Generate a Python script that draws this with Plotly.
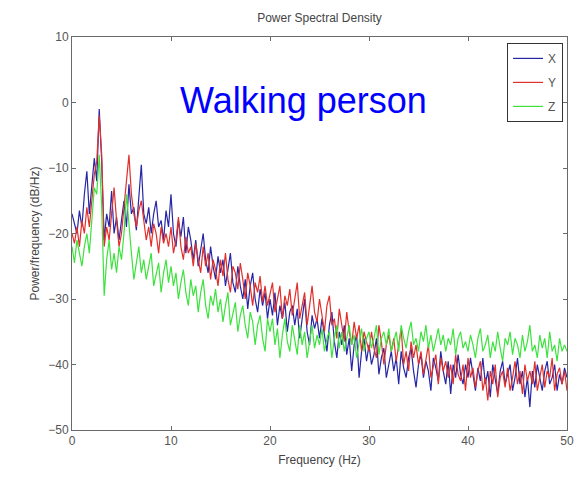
import numpy as np
import plotly.graph_objects as go

# Frequency grid (Hz)
freq = np.linspace(0, 50, 201)

x_psd = [
    -17, -18.5, -20, -16.5, -19, -14, -10.5, -17, -13, -8.5,
    -12, -1, -9, -21, -17, -19, -13.5, -20, -17.5, -21,
    -18, -15, -19, -12.5, -17, -16, -19.5, -15, -9.5, -17,
    -18.5, -16, -20, -17, -15, -19, -18, -21, -16.5, -19,
    -14, -20, -22, -18, -20.5, -17.5, -23, -19, -21, -24,
    -21, -25, -22.5, -20, -24, -26, -22, -25, -27, -23.5,
    -26, -24, -28, -25.5, -23, -27.5, -29, -25, -28, -30,
    -27, -31.5, -28, -26, -30, -32, -28.5, -31, -29, -33,
    -30, -32.5, -29, -34, -31, -33, -30.5, -35, -32, -31,
    -34, -31.5, -36, -33, -30, -35, -37, -32.5, -34.5, -33,
    -36, -33, -35.5, -38, -34, -32, -36.5, -39, -35, -37,
    -34, -38.5, -36, -41, -37, -35.5, -42, -38, -36, -39.5,
    -37, -40, -38.5, -36, -41.5, -39, -37.5, -42, -40, -38,
    -41, -39, -43, -38, -40.5, -42, -39, -37.5, -41, -43.5,
    -40, -38.5, -42, -39.5, -41, -44, -39, -40.5, -42.5, -38,
    -41, -43, -39.5, -44.5, -40, -42, -38.5, -41.5, -43, -40,
    -42, -39, -41.5, -44, -40.5, -42.5, -39, -43, -41, -45,
    -40, -42, -44.5, -41, -39.5, -43, -41.5, -40, -44, -42,
    -39, -43, -41, -45, -42, -46.5, -41, -43.5, -40, -42,
    -44, -41, -39.5, -43, -42, -40, -44, -41.5, -43, -40.5,
    -42,
]

y_psd = [
    -20, -21.5, -19, -22, -18, -20, -16, -19, -15, -11,
    -9, -2, -8, -22, -19, -21, -17, -13, -18, -22,
    -20, -16, -12, -8, -14, -17, -19, -16.5, -15, -18,
    -21, -19, -22, -18.5, -20, -23, -19, -21.5, -20, -22,
    -19, -23, -21, -17.5, -22, -24, -20.5, -23, -22, -25,
    -21.5, -24, -26, -22, -25, -23, -27, -24, -25.5, -28,
    -24, -26.5, -23, -27, -29, -25, -26, -28.5, -24.5, -27,
    -30, -26, -28, -31, -27.5, -29, -26.5, -30.5, -28, -31,
    -29, -27.5, -32, -30, -28, -33, -29.5, -31, -28.5, -32.5,
    -30, -27.5, -33, -31, -29, -34, -30.5, -28, -32, -33.5,
    -30, -32.5, -35, -31, -29.5, -34, -33, -36, -31.5, -34,
    -36.5, -32, -35, -37, -33.5, -36, -34, -38, -35, -36.5,
    -38, -35, -37.5, -39, -34, -36.5, -40, -37, -35.5, -38,
    -36, -39.5, -37, -34.5, -40, -38, -41, -36.5, -39, -37,
    -40, -38, -41.5, -39, -37, -42, -40, -38.5, -43, -39,
    -41, -39.5, -42, -40, -43, -38.5, -41.5, -42.5, -40, -44,
    -39, -42, -40.5, -43.5, -41, -39.5, -44, -42, -45.5, -41,
    -43, -40, -45, -42, -41, -43.5, -40.5, -44, -42, -39.5,
    -43, -41, -44.5, -40, -42.5, -41, -43, -39.5, -44, -42,
    -40, -43.5, -41, -42, -39, -44, -41.5, -40.5, -43, -41,
    -44,
]

z_psd = [
    -22, -24.5, -21, -23, -25, -22, -20, -23, -18, -13,
    -14, -8, -16, -29.5, -24, -21, -25.5, -23, -26, -22,
    -24, -20, -14, -19, -23, -27, -24.5, -22, -26, -24,
    -27, -25, -23, -28, -26, -24.5, -29, -26, -24, -27.5,
    -25, -28, -26, -30, -27.5, -25.5, -29, -31, -27, -29.5,
    -28, -32, -29, -27, -31, -33, -29.5, -31, -28.5, -32,
    -30, -33.5, -31, -29, -34, -32, -30.5, -35, -32.5, -31,
    -34, -36, -32, -33.5, -37, -34, -32.5, -36, -38, -33,
    -35, -33, -37, -34.5, -39, -35.5, -33, -36.5, -38, -34,
    -36, -38.5, -34, -37, -35, -39, -36.5, -34, -37.5, -35.5,
    -37, -34.5, -38, -36, -35, -39, -36, -34, -37.5, -35,
    -38, -36, -34, -37, -35.5, -39, -36.5, -34.5, -38, -36,
    -35, -37.5, -36, -34, -38.5, -36, -35, -37, -34.5, -38,
    -36.5, -35, -38, -34, -36, -37.5, -35, -33.5, -37, -36,
    -38, -35, -36.5, -34, -37.5, -35.5, -38, -36, -34.5, -37,
    -35.5, -38, -36, -37, -34.5, -38.5, -36, -35, -37.5, -36.5,
    -38, -35.5, -37, -39, -36, -34.5, -38, -37, -35.5, -39,
    -36.5, -38, -35, -37.5, -39.5, -36, -37, -35, -38.5, -36,
    -37, -39, -35.5, -38, -36.5, -34, -38, -37, -39, -35.5,
    -37.5, -36, -39, -35, -38, -37, -39.5, -36, -38, -37,
    -38,
]

series_names = ["X", "Y", "Z"]
series_colors = ["#2626a6", "#e0302c", "#3ee23e"]
series_values = [x_psd, y_psd, z_psd]

x_ticks = [0, 10, 20, 30, 40, 50]
y_ticks = [-50, -40, -30, -20, -10, 0, 10]

FONT = "Liberation Sans, Arial, sans-serif"

fig = go.Figure()
for name, color, vals in zip(series_names, series_colors, series_values):
    fig.add_trace(go.Scatter(
        x=freq, y=vals, mode="lines", name=name, legendgroup=name,
        line=dict(color=color, width=1.2),
    ))

axis_common = dict(
    showline=True, linecolor="#6a6a6a", linewidth=1, mirror="ticks",
    ticks="inside", ticklen=4, tickcolor="#6a6a6a",
    showgrid=False, zeroline=False,
    tickfont=dict(family=FONT, size=12, color="#555555"),
)

fig.update_layout(
    width=586, height=478,
    margin=dict(l=72, r=19, t=37, b=48),
    paper_bgcolor="white", plot_bgcolor="white",
    font=dict(family=FONT, size=12, color="#444444"),
    title=dict(text="Power Spectral Density", x=0.5, xref="paper",
               y=0.962, yanchor="middle",
               font=dict(family=FONT, size=12, color="#444444")),
    xaxis=dict(range=[0, 50], tickvals=x_ticks,
               title=dict(text="Frequency (Hz)", standoff=8,
                          font=dict(family=FONT, size=12, color="#444444")),
               **axis_common),
    yaxis=dict(range=[-50, 10], tickvals=y_ticks,
               title=dict(text="Power/frequency (dB/Hz)", standoff=6,
                          font=dict(family=FONT, size=12, color="#444444")),
               **axis_common),
    legend=dict(x=0.992, y=0.985, xanchor="right", yanchor="top",
                bgcolor="white", bordercolor="#333333", borderwidth=1,
                font=dict(family=FONT, size=12, color="#555555"),
                tracegroupgap=5, itemwidth=30),
    showlegend=True,
)

fig.add_annotation(
    x=23.4, y=0.3, xref="x", yref="y", text="Walking person",
    showarrow=False, xanchor="center", yanchor="middle",
    font=dict(family=FONT, size=36, color="#0000ff"),
)

fig.write_html("out.html")
